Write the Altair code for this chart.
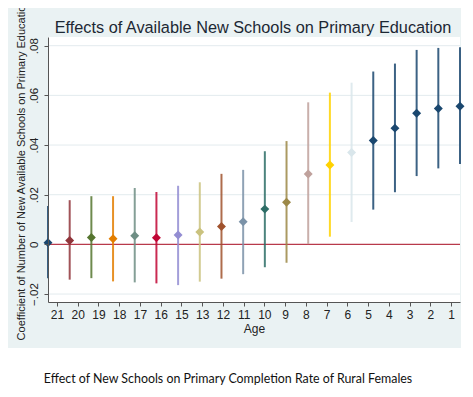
import altair as alt
import pandas as pd

TITLE = "Effects of Available New Schools on Primary Education"
YTITLE = "Coefficient of Number of New Available Schools on Primary Education"
XTITLE = "Age"
CAPTION = "Effect of New Schools on Primary Completion Rate of Rural Females"

AGES = ["21", "20", "19", "18", "17", "16", "15", "13", "12", "11",
        "10", "9", "8", "7", "6", "5", "4", "3", "2", "1"]
COEF = [0.0007, 0.0016, 0.0028, 0.0023, 0.0035, 0.0027, 0.0038, 0.0050, 0.0072, 0.0091,
        0.0142, 0.0170, 0.0283, 0.0320, 0.0370, 0.0418, 0.0468, 0.0528, 0.0547, 0.0556]
LO = [-0.0136, -0.0142, -0.0136, -0.0149, -0.0153, -0.0157, -0.0164, -0.0150, -0.0138, -0.0120,
      -0.0092, -0.0074, 0.0001, 0.0031, 0.0090, 0.0140, 0.0210, 0.0275, 0.0306, 0.0324]
HI = [0.0155, 0.0178, 0.0194, 0.0194, 0.0227, 0.0211, 0.0236, 0.0250, 0.0284, 0.0300,
      0.0375, 0.0416, 0.0572, 0.0611, 0.0651, 0.0696, 0.0728, 0.0783, 0.0791, 0.0794]
YTICKS = [-0.02, 0, 0.02, 0.04, 0.06, 0.08]

COLORS = ["#1a476f", "#90353b", "#55752f", "#e37e00", "#6e8e84", "#c10534", "#938dd2",
          "#cac27e", "#a0522d", "#7b92a8", "#2d6d66", "#9c8847", "#bfa19c", "#ffd200",
          "#d9e6eb", "#1a476f", "#1a476f", "#1a476f", "#1a476f", "#1a476f"]

W, H = 412, 265
YDOM = [-0.0232, 0.0835]
FONT = "Liberation Sans"

df = pd.DataFrame({"age": AGES, "coef": COEF, "lo": LO, "hi": HI})
ticks_df = pd.DataFrame({"tick": YTICKS})
one = pd.DataFrame({"title": [TITLE], "caption": [CAPTION]})

yaxis = alt.Axis(
    values=YTICKS,
    labelExpr="datum.value == 0 ? '0' : replace(format(datum.value, '.2f'), '0.', '.')",
    labelAngle=270, labelAlign="center", labelBaseline="bottom", labelPadding=5,
    labelFontSize=11.5, labelColor="#222222", labelFont=FONT,
    tickSize=4, tickColor="#555555", domainColor="#555555",
    title=YTITLE, titleFontSize=11, titleFontWeight="normal", titleColor="#222222",
    titleFont=FONT, titlePadding=2, grid=False, zindex=1,
)
yscale = alt.Scale(domain=YDOM, nice=False, zero=False)


def yenc(field):
    return alt.Y(field, type="quantitative", scale=yscale, axis=yaxis, title=YTITLE)


xsort = AGES
xpts = alt.X("age:O", sort=xsort, scale=alt.Scale(type="point", padding=0), axis=None)
color = alt.Color("age:O", sort=xsort, scale=alt.Scale(domain=AGES, range=COLORS), legend=None)

panel = alt.Chart(one).mark_rect(color="#eaf2f3").encode(
    x=alt.value(-40), x2=alt.value(413), y=alt.value(-29), y2=alt.value(311))
plotbg = alt.Chart(one).mark_rect(color="white").encode(
    x=alt.value(0), x2=alt.value(W), y=alt.value(0), y2=alt.value(H))

grid = alt.Chart(ticks_df).transform_filter("datum.tick != 0").mark_rule(
    color="#e3ebee", strokeWidth=1).encode(y=yenc("tick"))
zero = alt.Chart(ticks_df).transform_filter("datum.tick == 0").mark_rule(
    color="#b83a4b", strokeWidth=1.2).encode(y=yenc("tick"))

bars = alt.Chart(df).mark_rule(strokeWidth=2, opacity=0.85).encode(
    x=xpts, y=yenc("lo"), y2="hi", color=color)
pts = alt.Chart(df).mark_point(shape="diamond", filled=True, size=80, opacity=1).encode(
    x=xpts, y=yenc("coef"), color=color)

xaxis_layer = alt.Chart(df).mark_point(opacity=0).encode(
    x=alt.X("age:O", sort=xsort, scale=alt.Scale(type="point", padding=0.435),
            axis=alt.Axis(orient="bottom", labelAngle=0, labelFontSize=12,
                          labelColor="#222222", labelFont=FONT, labelPadding=3,
                          tickSize=4, tickColor="#555555", domainColor="#555555",
                          title=XTITLE, titleFontSize=12, titleFontWeight="normal",
                          titleColor="#222222", titleFont=FONT, titlePadding=3,
                          grid=False, zindex=1)))

title_txt = alt.Chart(one).mark_text(
    font=FONT, fontSize=16.3, color="#1c2833", baseline="alphabetic", align="center").encode(
    x=alt.value(205), y=alt.value(-4.5), text="title:N")
caption_txt = alt.Chart(one).mark_text(
    font="Lato", fontSize=12.4, color="#111111", baseline="alphabetic", align="center").encode(
    x=alt.value(180), y=alt.value(345.7), text="caption:N")

chart = alt.layer(
    panel, plotbg, grid, zero, bars, pts, xaxis_layer, title_txt, caption_txt
).resolve_scale(x="independent", color="shared").properties(
    width=W, height=H,
    padding={"left": 40, "top": 29, "right": 5, "bottom": 87},
    autosize=alt.AutoSizeParams(type="none"),
    background="white",
).configure_view(stroke=None)

chart.save("out.html", embed_options={"renderer": "svg", "actions": False})
